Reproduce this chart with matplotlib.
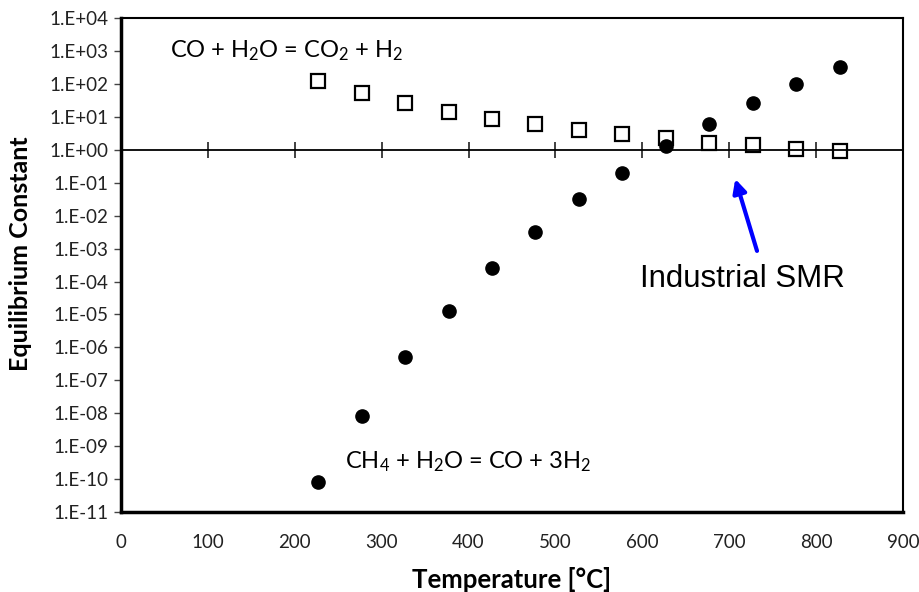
import math
import matplotlib
matplotlib.use("Agg")
import matplotlib.pyplot as plt
from matplotlib.ticker import FixedLocator, FuncFormatter

plt.rcParams['font.family'] = ['Lato', 'DejaVu Sans']
plt.rcParams['mathtext.fontset'] = 'custom'
plt.rcParams['mathtext.rm'] = 'Lato'

# temperatures [C]
temps = [227, 277, 327, 377, 427, 477, 527, 577, 627, 677, 727, 777, 827]
# water-gas shift  CO + H2O = CO2 + H2
k_wgs = [125, 54, 27, 14.4, 8.8, 6.2, 4.1, 3.1, 2.2, 1.6, 1.4, 1.07, 0.93]
# steam methane reforming  CH4 + H2O = CO + 3H2
k_smr = [8.3e-11, 8e-9, 5e-7, 1.3e-5, 2.6e-4, 3.2e-3, 3.2e-2, 0.2, 1.26, 6.0, 27, 100, 320]

x_ticks = [0, 100, 200, 300, 400, 500, 600, 700, 800, 900]
y_ticks = [10.0 ** e for e in range(-11, 5)]


def sci_label(v, pos):
    e = int(round(math.log10(v)))
    return "1.E%s%02d" % ('+' if e >= 0 else '-', abs(e))


fig = plt.figure(figsize=(9.2, 5.92), dpi=100)
ax = fig.add_axes([0.1315, 0.135, 0.85, 0.8346])

ax.plot(temps, k_wgs, linestyle='none', marker='s', markersize=10,
        markerfacecolor='white', markeredgecolor='black', markeredgewidth=1.6)
ax.plot(temps, k_smr, linestyle='none', marker='o', markersize=9.5,
        markerfacecolor='black', markeredgecolor='black')

ax.set_yscale('log')
ax.set_xlim(0, 900)
ax.set_ylim(1e-11, 1e4)
ax.yaxis.set_major_locator(FixedLocator(y_ticks))
ax.yaxis.set_minor_locator(FixedLocator([]))
ax.yaxis.set_major_formatter(FuncFormatter(sci_label))
ax.tick_params(axis='y', direction='out', length=5, width=1, labelsize=13.5,
               color='#444444', pad=4, labelcolor='#222222')

# x axis crosses at K = 1
ax.spines['bottom'].set_position(('data', 1))
ax.spines['bottom'].set_linewidth(1.3)
ax.set_xticks(x_ticks)
ax.tick_params(axis='x', direction='inout', length=12, width=1.3,
               color='#333333', labelbottom=False)

sec = ax.secondary_xaxis('bottom')
sec.set_xticks(x_ticks)
sec.tick_params(axis='x', length=0, labelsize=13.5, pad=16, labelcolor='#222222')
sec.spines['bottom'].set_linewidth(2.5)
sec.set_xlabel('Temperature [°C]', fontsize=18.5, fontweight='bold', labelpad=11)

ax.spines['left'].set_linewidth(2.5)
ax.spines['top'].set_linewidth(1.5)
ax.spines['right'].set_linewidth(1.5)

ax.set_ylabel('Equilibrium Constant', fontsize=18, fontweight='bold')
ax.yaxis.set_label_coords(-0.114, 0.522)

ax.text(56, 1e3, r'CO + H$\mathregular{_2}$O = CO$\mathregular{_2}$ + H$\mathregular{_2}$',
        fontsize=17, va='center', ha='left')
ax.text(258, 3.5e-10, r'CH$\mathregular{_4}$ + H$\mathregular{_2}$O = CO + 3H$\mathregular{_2}$',
        fontsize=17, va='center', ha='left')
ax.text(597, 1.2e-4, 'Industrial SMR', fontsize=22.5, family='Liberation Sans',
        va='center', ha='left')
ax.annotate('', xy=(707, 0.13), xytext=(732, 8.5e-4),
            arrowprops=dict(arrowstyle='-|>,head_length=0.8,head_width=0.4',
                            color='#0000ff', lw=3, shrinkA=0, shrinkB=0))

fig.savefig('out.png', dpi=100)
